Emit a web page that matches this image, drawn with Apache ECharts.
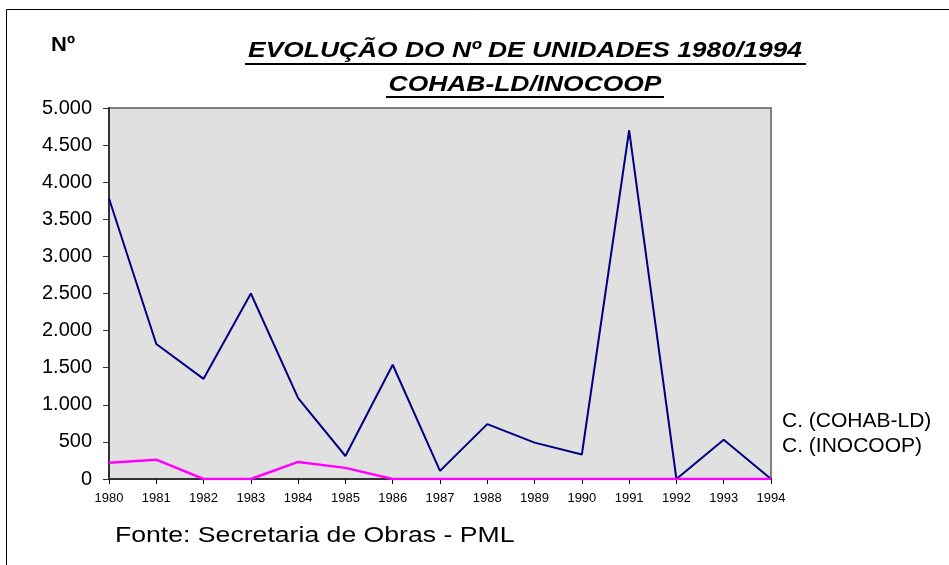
<!DOCTYPE html>
<html>
<head>
<meta charset="utf-8">
<script src="https://cdn.jsdelivr.net/npm/echarts@6/dist/echarts.min.js"></script>
<style>
  html, body { margin: 0; padding: 0; background: #fff; }
  #chart { width: 949px; height: 565px; }
</style>
</head>
<body>
<div id="chart"></div>
<script>
  var years = ['1980', '1981', '1982', '1983', '1984', '1985', '1986', '1987',
    '1988', '1989', '1990', '1991', '1992', '1993', '1994']
  var cohab = [3780, 1820, 1350, 2500, 1090, 310, 1540, 110, 740, 490, 330, 4700, 0, 530, 0]
  var inocoop = [220, 260, 0, 0, 230, 150, 0, 0, 0, 0, 0, 0, 0, 0, 0]
  var seriesNames = ['C. (COHAB-LD)', 'C. (INOCOOP)']
  var titleLines = ['EVOLUÇÃO DO Nº DE UNIDADES 1980/1994', 'COHAB-LD/INOCOOP']

  var font = "'Liberation Sans', Arial, sans-serif"

  function fmt (v) {
    return String(v).replace(/\B(?=(\d{3})+(?!\d))/g, '.')
  }

  var myChart = echarts.init(document.getElementById('chart'))

  var option = {
    animation: false,
    backgroundColor: '#ffffff',
    textStyle: { fontFamily: font },
    grid: {
      left: 109,
      right: 178,
      top: 108,
      bottom: 86,
      show: true,
      backgroundColor: '#e0e0e0',
      borderColor: '#808080',
      borderWidth: 2
    },
    legend: {
      orient: 'vertical',
      left: 771,
      top: 406,
      itemWidth: 0,
      itemHeight: 0,
      itemGap: 4,
      data: seriesNames,
      textStyle: { fontSize: 21, color: '#000', fontFamily: font }
    },
    xAxis: {
      type: 'category',
      data: years,
      boundaryGap: false,
      axisLine: { lineStyle: { color: '#333', width: 2 } },
      axisTick: { show: true, length: 5, lineStyle: { color: '#000' } },
      axisLabel: { fontSize: 13, color: '#000', margin: 13 },
      splitLine: { show: false }
    },
    yAxis: {
      type: 'value',
      min: 0,
      max: 5000,
      interval: 500,
      axisLine: { show: true, lineStyle: { color: '#333', width: 2 } },
      axisTick: { show: true, length: 6, lineStyle: { color: '#333' } },
      axisLabel: {
        fontSize: 20,
        color: '#000',
        margin: 17,
        formatter: fmt
      },
      splitLine: { show: false }
    },
    series: [{
      name: seriesNames[0],
      type: 'line',
      data: cohab,
      showSymbol: false,
      symbol: 'none',
      z: 3,
      lineStyle: { color: '#000080', width: 2 },
      itemStyle: { color: '#000080' }
    }, {
      name: seriesNames[1],
      type: 'line',
      data: inocoop,
      showSymbol: false,
      symbol: 'none',
      z: 4,
      lineStyle: { color: '#ff00ff', width: 2.5 },
      itemStyle: { color: '#ff00ff' }
    }],
    graphic: [
      {
        type: 'rect',
        shape: { x: 6.5, y: 9.5, width: 1000, height: 600 },
        style: { fill: 'none', stroke: '#000', lineWidth: 1 },
        silent: true
      },
      {
        type: 'text',
        x: 51,
        y: 45,
        scaleX: 1.1,
        style: {
          text: 'Nº',
          font: 'bold 20px ' + font,
          fill: '#000',
          textVerticalAlign: 'middle'
        }
      },
      {
        type: 'text',
        x: 525,
        y: 51,
        scaleX: 1.2,
        style: {
          text: titleLines[0],
          font: 'italic bold 22px ' + font,
          fill: '#000',
          textAlign: 'center',
          textVerticalAlign: 'middle'
        }
      },
      {
        type: 'line',
        shape: { x1: 245, y1: 64, x2: 806, y2: 64 },
        style: { stroke: '#000', lineWidth: 2 }
      },
      {
        type: 'text',
        x: 525,
        y: 85,
        scaleX: 1.2,
        style: {
          text: titleLines[1],
          font: 'italic bold 22px ' + font,
          fill: '#000',
          textAlign: 'center',
          textVerticalAlign: 'middle'
        }
      },
      {
        type: 'line',
        shape: { x1: 386, y1: 97, x2: 664, y2: 97 },
        style: { stroke: '#000', lineWidth: 2 }
      },
      {
        type: 'text',
        x: 115,
        y: 536,
        scaleX: 1.21,
        style: {
          text: 'Fonte: Secretaria de Obras - PML',
          font: '22px ' + font,
          fill: '#000',
          textVerticalAlign: 'middle'
        }
      }
    ]
  }
  myChart.setOption(option)
</script>
</body>
</html>
